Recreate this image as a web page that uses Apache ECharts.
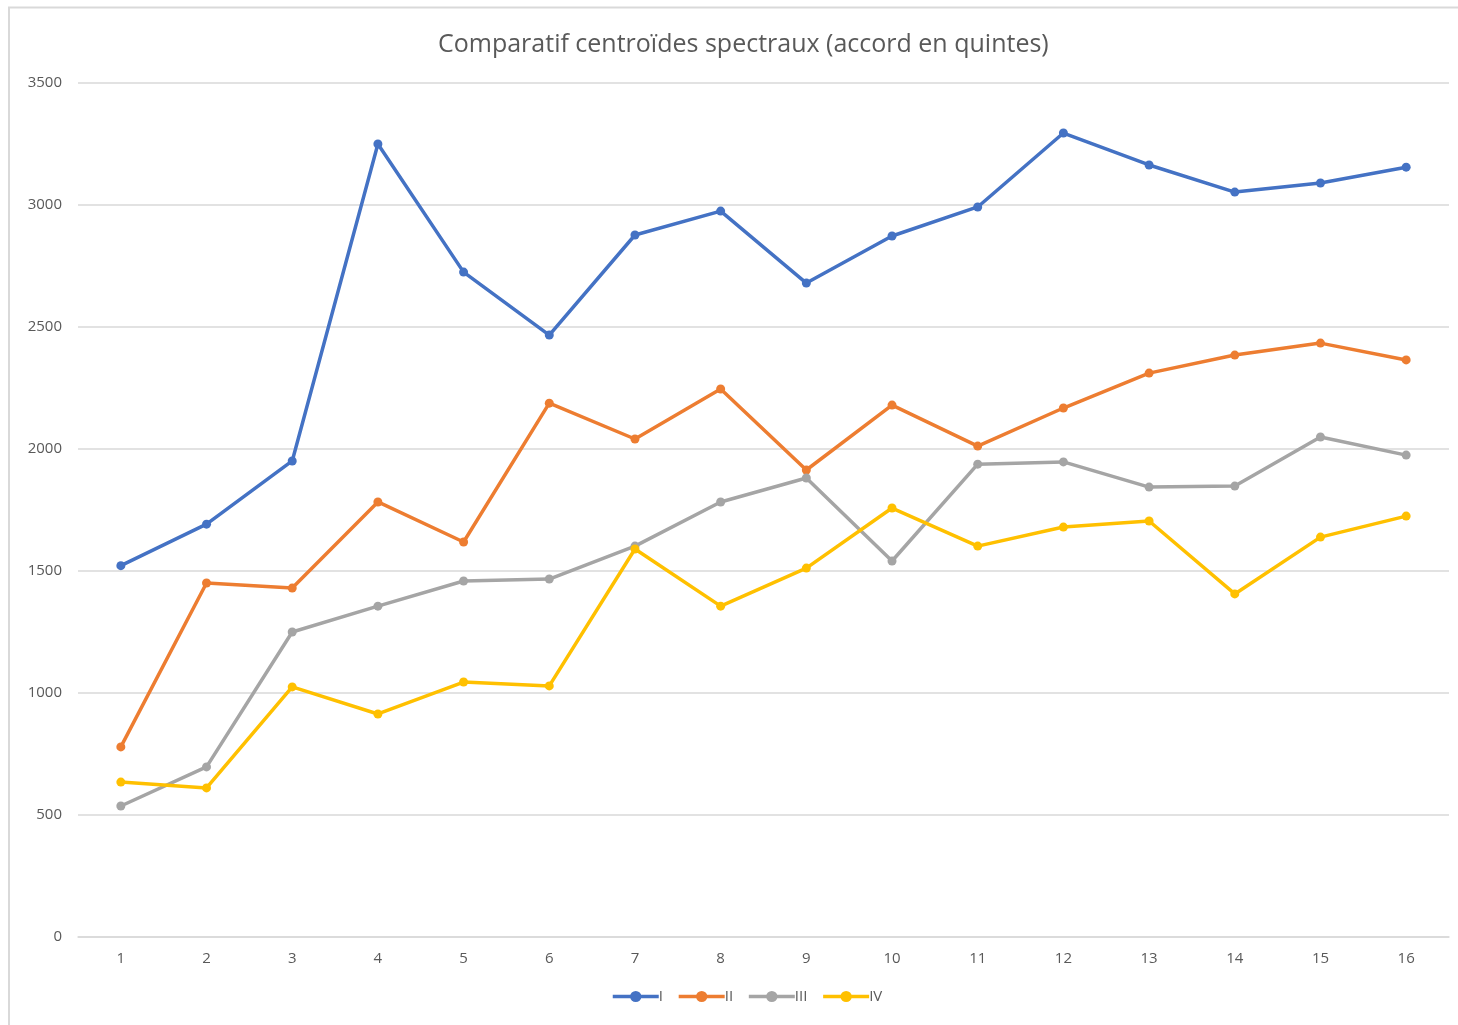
<!DOCTYPE html>
<html>
<head>
<meta charset="utf-8">
<script src="https://cdn.jsdelivr.net/npm/echarts@6/dist/echarts.min.js"></script>
<style>
  html, body { margin: 0; padding: 0; background: #fff; }
  #chart { width: 1458px; height: 1025px; }
</style>
</head>
<body>
<div id="chart"></div>
<script>
const categories = ['1', '2', '3', '4', '5', '6', '7', '8', '9', '10', '11', '12', '13', '14', '15', '16'];
const serieI = [1522, 1692, 1951, 3250, 2725, 2467, 2877, 2975, 2680, 2873, 2992, 3295, 3164, 3053, 3090, 3155];
const serieII = [779, 1451, 1430, 1783, 1619, 2188, 2041, 2246, 1914, 2180, 2012, 2168, 2311, 2385, 2434, 2365];
const serieIII = [537, 697, 1250, 1356, 1459, 1467, 1602, 1783, 1881, 1541, 1938, 1947, 1844, 1848, 2049, 1975];
const serieIV = [635, 611, 1025, 914, 1045, 1029, 1590, 1356, 1512, 1758, 1602, 1680, 1705, 1406, 1639, 1725];

const font = '"Open Sans", "Noto Sans", sans-serif';

function ligne(nom, data, couleur) {
    return {
        name: nom,
        type: 'line',
        data: data,
        symbol: 'circle',
        symbolSize: 9,
        lineStyle: { color: couleur, width: 3.5 },
        itemStyle: { color: couleur },
        emphasis: { disabled: true }
    };
}

const mychart = echarts.init(document.getElementById('chart'));
const option = {
    animation: false,
    backgroundColor: '#fff',
    color: ['#4472c4', '#ed7d31', '#a5a5a5', '#ffc000'],
    title: {
        text: 'Comparatif centroïdes spectraux (accord en quintes)',
        left: 433,
        top: 27,
        textStyle: { fontFamily: font, fontSize: 25, fontWeight: 'normal', color: '#595959' }
    },
    graphic: [{
        type: 'polyline',
        shape: { points: [[9, 1030], [9, 7.5], [1462, 7.5]] },
        style: { stroke: '#d9d9d9', lineWidth: 2, fill: null }
    }],
    legend: {
        bottom: 16,
        left: 606,
        itemWidth: 46,
        itemHeight: 14,
        itemGap: 14,
        lineStyle: { width: 3.5 },
        textStyle: { fontFamily: font, fontSize: 15, color: '#595959', padding: [0, 0, 0, -5] },
        data: ['I', 'II', 'III', 'IV']
    },
    grid: { left: 78, right: 9, top: 83, bottom: 88 },
    xAxis: {
        type: 'category',
        data: categories,
        boundaryGap: true,
        axisLine: { lineStyle: { color: '#d9d9d9', width: 1.5 } },
        axisTick: { show: false },
        axisLabel: { fontFamily: font, fontSize: 15, color: '#595959', margin: 14 }
    },
    yAxis: {
        type: 'value',
        min: 0,
        max: 3500,
        interval: 500,
        axisLine: { show: false },
        axisTick: { show: false },
        axisLabel: { fontFamily: font, fontSize: 15, color: '#595959', margin: 16, formatter: (v) => String(v) },
        splitLine: { lineStyle: { color: '#d9d9d9', width: 1.5 } }
    },
    series: [
        ligne('I', serieI, '#4472c4'),
        ligne('II', serieII, '#ed7d31'),
        ligne('III', serieIII, '#a5a5a5'),
        ligne('IV', serieIV, '#ffc000')
    ]
};
mychart.setOption(option);
</script>
</body>
</html>
